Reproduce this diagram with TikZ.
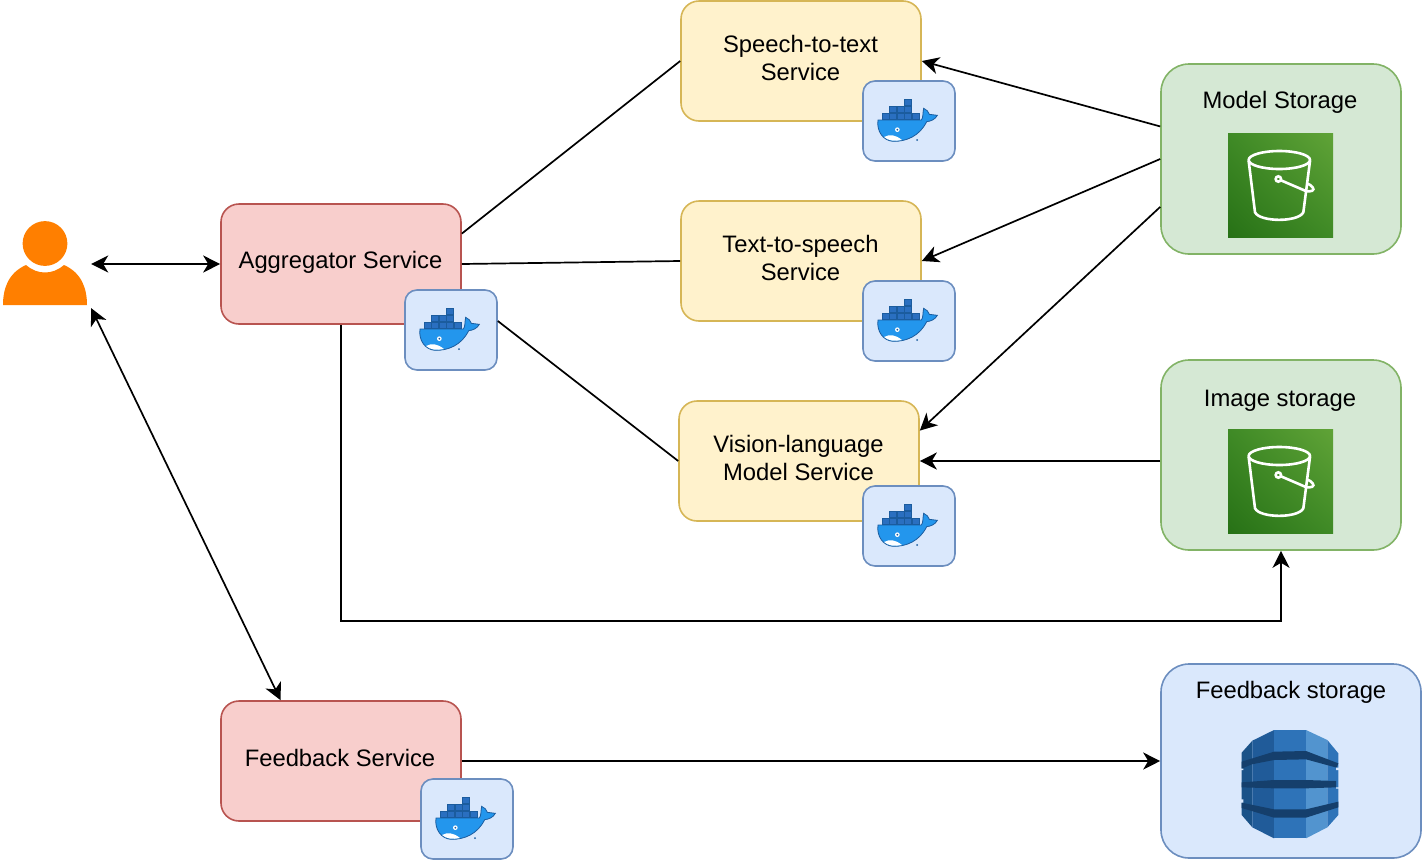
\documentclass[tikz,border=0pt]{standalone}
\usepackage{fontspec}
\setmainfont{Liberation Sans}
\usetikzlibrary{arrows.meta,calc,shadings}
\definecolor{redfill}{HTML}{F8CECC}
\definecolor{redline}{HTML}{B85450}
\definecolor{yellowfill}{HTML}{FFF2CC}
\definecolor{yellowline}{HTML}{D6B656}
\definecolor{greenfill}{HTML}{D5E8D4}
\definecolor{greenline}{HTML}{82B366}
\definecolor{bluefill}{HTML}{DAE8FC}
\definecolor{blueline}{HTML}{6C8EBF}
\definecolor{whale}{HTML}{2396ED}
\definecolor{whaledark}{HTML}{1B5C9E}
\definecolor{crate}{HTML}{2A6FC0}
\definecolor{usercolor}{HTML}{FF7F00}
\definecolor{s3dark}{HTML}{277116}
\definecolor{s3mid}{HTML}{3F8A26}
\definecolor{s3light}{HTML}{60A337}
\definecolor{dyndark}{HTML}{1A5288}
\definecolor{dynleft}{HTML}{205B99}
\definecolor{dynmid}{HTML}{2E73B8}
\definecolor{dynright}{HTML}{5294CF}
\definecolor{dynband}{HTML}{153F6C}
\tikzset{
    service/.style={draw,line width=1.6pt,rounded corners=18pt,minimum width=240pt,minimum height=120pt,inner sep=0pt},
    redbox/.style={service,fill=redfill,draw=redline},
    yellowbox/.style={service,fill=yellowfill,draw=yellowline},
    dockerbox/.style={draw=blueline,fill=bluefill,line width=1.6pt,rounded corners=12pt,minimum width=92pt,minimum height=80pt,inner sep=0pt},
    storebox/.style={draw,line width=1.6pt,rounded corners=28pt,minimum width=240pt,minimum height=190pt,inner sep=0pt},
    boxtext/.style={font=\fontsize{23.8}{28}\selectfont,align=center,inner sep=0pt},
    link/.style={line width=1.7pt,black},
    arrow/.style={link,-{Stealth[length=17pt,width=17pt,inset=5pt]}},
    twoway/.style={link,{Stealth[length=17pt,width=17pt,inset=5pt]}-{Stealth[length=17pt,width=17pt,inset=5pt]}},
    pics/dockericon/.style={code={
        \begin{scope}[x=0.3333pt,y=-0.3333pt,shift={(-153,-135)}]
            \foreach \cx/\cy in {72/112,95/112,118/112,140/112,163/112,95/91,118/91,140/91,140/70}
                \draw[fill=crate,draw=whaledark,line width=0.8pt] (\cx,\cy) rectangle ++(21,19);
            \fill[whale,draw=whaledark,line width=0.8pt] (60,132) -- (190,132) .. controls (196,126) and (194,110) .. (197,97)
                .. controls (206,100) and (212,108) .. (214,115) -- (238,118)
                .. controls (232,130) and (218,136) .. (206,137)
                .. controls (185,180) and (145,197) .. (105,196)
                .. controls (75,194) and (55,165) .. (60,132) -- cycle;
            \fill[white] (78,183) .. controls (95,174) and (112,176) .. (132,192) .. controls (110,197) and (90,194) .. (78,183) -- cycle;
            \fill[white] (118,161) circle (7);
            \fill[whaledark] (118,161) circle (3);
            \fill[whaledark] (177,192) circle (3);
        \end{scope}
    }},
    pics/bucketicon/.style={code={
        \shade[lower left=s3dark,lower right=s3mid,upper left=s3mid,upper right=s3light] (-52.5,-52) rectangle (52.5,52);
        \begin{scope}[x=0.3333pt,y=-0.3333pt,shift={(-181.5,-180)},draw=white,line width=2.6pt]
            \draw (178,105) ellipse (92 and 27);
            \draw (86,108) -- (105,262) .. controls (120,292) and (235,292) .. (250,262) -- (270,108);
            \draw (175,162) circle (8);
            \draw (183,166) -- (255,197) .. controls (275,203) and (285,195) .. (278,187) .. controls (274,181) and (268,178) .. (262,176);
        \end{scope}
    }},
    pics/dynamoicon/.style={code={
        \begin{scope}[x=0.3333pt,y=-0.3333pt,shift={(-180,-192)}]
            \fill[dyndark] (35,98) -- (67,62) -- (67,322) -- (35,285) -- cycle;
            \fill[dynleft] (67,62) -- (132,30) -- (132,355) -- (67,322) -- cycle;
            \fill[dynmid] (132,30) -- (228,30) -- (228,355) -- (132,355) -- cycle;
            \fill[dynright] (228,30) -- (292,60) -- (292,322) -- (228,355) -- cycle;
            \fill[dynmid] (292,60) -- (325,100) -- (325,285) -- (292,322) -- cycle;
            \fill[dynband] (35,125) -- (132,95) -- (228,93) -- (325,130) -- (320,143) -- (228,118) -- (132,120) -- (65,133) -- (35,146) -- cycle;
            \fill[dynband] (35,187) -- (132,180) -- (228,180) -- (318,183) -- (318,202) -- (228,205) -- (132,205) -- (35,202) -- cycle;
            \fill[dynband] (35,248) -- (132,268) -- (228,268) -- (325,245) -- (325,262) -- (228,293) -- (132,293) -- (35,264) -- cycle;
            \fill[bluefill] (33,146) rectangle (40,150) (33,238) rectangle (40,248);
            \fill[bluefill] (318,143) rectangle (327,150) (318,202) rectangle (327,206);
        \end{scope}
    }},
    pics/usericon/.style={code={
        \fill[usercolor] (0,-20.5) circle (22.4);
        \fill[usercolor] (-42,41) .. controls (-42,25) and (-37,9) .. (-19,1)
            .. controls (-8,11) and (8,11) .. (19,1)
            .. controls (37,9) and (42,25) .. (42,41) -- cycle;
    }}
}
\begin{document}
\begin{tikzpicture}[x=1pt,y=-1pt]
    \useasboundingbox (0,0) rectangle (1422,860);
    % user
    \node[minimum width=92pt,minimum height=88pt,inner sep=0pt] (user) at (45,264) {};
    \pic at (user.center) {usericon};
    % services
    \node[redbox] (aggregator) at (341,264) {};
    \node[boxtext] (aggregatortext) at (340.5,262) {Aggregator Service};
    \node[dockerbox] (dockeragg) at (451,330) {};
    \node[yellowbox] (speech) at (801,61) {};
    \node[boxtext] (speechtext) at (800.5,58) {Speech-to-text\\Service};
    \node[dockerbox] (dockerspeech) at (909,121) {};
    \node[yellowbox] (tts) at (801,261) {};
    \node[boxtext] (ttstext) at (800.5,258) {Text-to-speech\\Service};
    \node[dockerbox] (dockertts) at (909,321) {};
    \node[yellowbox] (vision) at (799,461) {};
    \node[boxtext] (visiontext) at (798.5,458) {Vision-language\\Model Service};
    \node[dockerbox] (dockervision) at (909,526) {};
    \node[redbox] (feedback) at (341,761) {};
    \node[boxtext] (feedbacktext) at (340,758) {Feedback Service};
    \node[dockerbox] (dockerfeedback) at (467,819) {};
    \foreach \d in {dockeragg,dockerspeech,dockertts,dockervision,dockerfeedback}
        \pic at (\d.center) {dockericon};
    % storage
    \node[storebox,fill=greenfill,draw=greenline] (model) at (1281,159) {};
    \node[boxtext] (modeltext) at (1280,102) {Model Storage};
    \pic at (1280.5,185) {bucketicon};
    \node[storebox,fill=greenfill,draw=greenline] (image) at (1281,455) {};
    \node[boxtext] (imagetext) at (1280,401) {Image storage};
    \pic at (1280.5,481) {bucketicon};
    \node[storebox,minimum width=260pt,minimum height=194pt,fill=bluefill,draw=blueline] (store) at (1291,761) {};
    \node[boxtext] (storetext) at (1291,692) {Feedback storage};
    \pic at (1290,784) {dynamoicon};
    % connectors
    \draw[twoway] (user.east) -- (aggregator.west);
    \draw[twoway] (user.south east) -- ($(feedback.north west)!.25!(feedback.north east)$);
    \draw[link] ($(aggregator.north east)!.25!(aggregator.south east)$) -- (speech.west);
    \draw[link] (aggregator.east) -- (tts.west);
    \draw[link] ($(dockeragg.east)+(0,-9)$) -- (vision.west);
    \draw[arrow] ($(model.north west)!.33!(model.south west)$) -- (speech.east);
    \draw[arrow] (model.west) -- (tts.east);
    \draw[arrow] ($(model.north west)!.75!(model.south west)$) -- ($(vision.north east)!.25!(vision.south east)$);
    \draw[arrow] (image.west |- vision.east) -- (vision.east);
    \draw[arrow] (aggregator.south) |- (1281,621) -- (image.south);
    \draw[arrow] (feedback.east) -- (store.west);
\end{tikzpicture}
\end{document}
